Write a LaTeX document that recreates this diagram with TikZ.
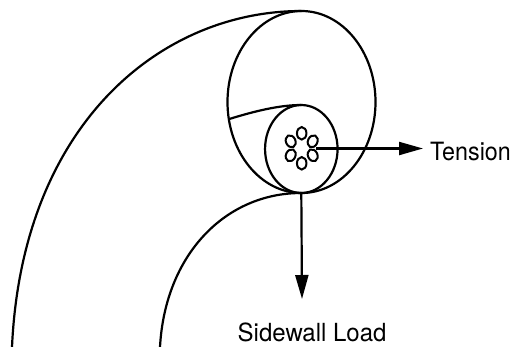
\documentclass[tikz,border=0pt]{standalone}
\usepackage{fontspec}
\setmainfont{TeX Gyre Heros}
\usetikzlibrary{shapes.geometric,arrows.meta}
\tikzset{
  ring/.style={draw=black,line width=2.2pt,ellipse,inner sep=0pt,outer sep=0pt},
  strand/.style={ring,line width=2pt,minimum width=9.5pt,minimum height=12.5pt},
  curve/.style={draw=black,line width=2.2pt},
  force/.style={draw=black,line width=2.2pt,-{Triangle[length=24pt,width=13pt]}},
  lbl/.style={inner sep=0pt}
}
\begin{document}
\begin{tikzpicture}[x=1pt,y=-1pt]
\useasboundingbox (0,0) rectangle (513,346);
\node[ring,minimum width=148pt,minimum height=182pt] (outer) at (301.5,102) {};
\node[ring,minimum width=72.5pt,minimum height=88pt] (inner) at (301.3,149) {};
\node[strand] (s1) at (301.7,133.3) {};
\node[strand,rotate=25] (s2) at (290.7,141.3) {};
\node[strand,rotate=-25] (s3) at (312.7,141.3) {};
\node[strand,rotate=-25] (s4) at (290.7,155.3) {};
\node[strand,rotate=25] (s5) at (312.7,155.3) {};
\node[strand] (s6) at (301.7,163.3) {};
\coordinate (a) at (12,347);
\coordinate (b) at (160,347);
\coordinate (c) at (229.3,119);
\coordinate (ts) at (316,148.5);
\coordinate (t) at (423,148.5);
\coordinate (w) at (302,299);
\path[curve] (outer.north) .. controls (160,11) and (22,125) .. (a);
\path[curve] (inner.south) .. controls (225,193) and (165,255) .. (b);
\path[curve] (c) .. controls (255,111) and (280,105) .. (inner.north);
\path[force] (ts) -- (t);
\path[force] (inner.south) -- (w);
\node[lbl,anchor=base west] (tl) at (430,160.5) {\fontsize{23.3}{26}\selectfont\scalebox{1}[1.08]{Tension}};
\node[lbl,anchor=base west] (sl) at (237.5,341) {\fontsize{24}{26}\selectfont\scalebox{1}[1.04]{Sidewall Load}};
\end{tikzpicture}
\end{document}
